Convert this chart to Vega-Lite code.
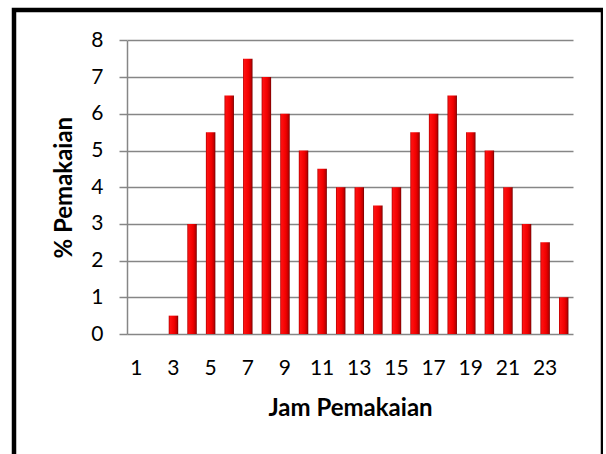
{
  "$schema": "https://vega.github.io/schema/vega-lite/v6.json",
  "autosize": {"type": "none"},
  "padding": {"left": 14, "top": 10, "right": 0, "bottom": 0},
  "width": 589,
  "height": 450,
  "background": "white",
  "config": {
    "view": {"stroke": "black", "strokeWidth": 4.5},
    "font": "Lato"
  },
  "data": {
    "values": [
      {"jam": 1, "persen": 0},
      {"jam": 2, "persen": 0},
      {"jam": 3, "persen": 0.5},
      {"jam": 4, "persen": 3},
      {"jam": 5, "persen": 5.5},
      {"jam": 6, "persen": 6.5},
      {"jam": 7, "persen": 7.5},
      {"jam": 8, "persen": 7},
      {"jam": 9, "persen": 6},
      {"jam": 10, "persen": 5},
      {"jam": 11, "persen": 4.5},
      {"jam": 12, "persen": 4},
      {"jam": 13, "persen": 4},
      {"jam": 14, "persen": 3.5},
      {"jam": 15, "persen": 4},
      {"jam": 16, "persen": 5.5},
      {"jam": 17, "persen": 6},
      {"jam": 18, "persen": 6.5},
      {"jam": 19, "persen": 5.5},
      {"jam": 20, "persen": 5},
      {"jam": 21, "persen": 4},
      {"jam": 22, "persen": 3},
      {"jam": 23, "persen": 2.5},
      {"jam": 24, "persen": 1}
    ]
  },
  "mark": {
    "type": "bar",
    "fill": {
      "gradient": "linear",
      "x1": 0, "x2": 1, "y1": 0, "y2": 0,
      "stops": [
        {"offset": 0, "color": "#b00000"},
        {"offset": 0.15, "color": "#ff1010"},
        {"offset": 0.6, "color": "#f00000"},
        {"offset": 0.85, "color": "#c00000"},
        {"offset": 1, "color": "#700000"}
      ]
    }
  },
  "encoding": {
    "x": {
      "field": "jam",
      "type": "ordinal",
      "scale": {"range": [113, 559], "paddingInner": 0.49, "paddingOuter": 0.245},
      "axis": {
        "orient": "bottom",
        "offset": -126,
        "domain": false,
        "ticks": false,
        "labelAngle": 0,
        "labelExpr": "datum.value % 2 == 1 ? datum.label : ''",
        "labelFont": "Lato",
        "labelFontSize": 21,
        "labelColor": "black",
        "labelPadding": 23,
        "title": "Jam Pemakaian",
        "titleFont": "Lato",
        "titleFontSize": 24,
        "titleFontWeight": "bold",
        "titleColor": "black",
        "titlePadding": 18
      }
    },
    "y": {
      "field": "persen",
      "type": "quantitative",
      "scale": {"domain": [0, 8], "range": [324, 30.4], "nice": false},
      "axis": {
        "orient": "left",
        "offset": -113,
        "values": [0, 1, 2, 3, 4, 5, 6, 7, 8],
        "grid": true,
        "gridColor": "#868686",
        "gridWidth": 1.5,
        "domainColor": "#868686",
        "domainWidth": 1.5,
        "tickColor": "#868686",
        "tickWidth": 1.5,
        "tickSize": 8,
        "labelFont": "Lato",
        "labelFontSize": 21,
        "labelColor": "black",
        "labelPadding": 16,
        "title": "% Pemakaian",
        "titleFont": "Lato",
        "titleFontSize": 24,
        "titleFontWeight": "bold",
        "titleColor": "black",
        "titlePadding": 14
      }
    }
  }
}
